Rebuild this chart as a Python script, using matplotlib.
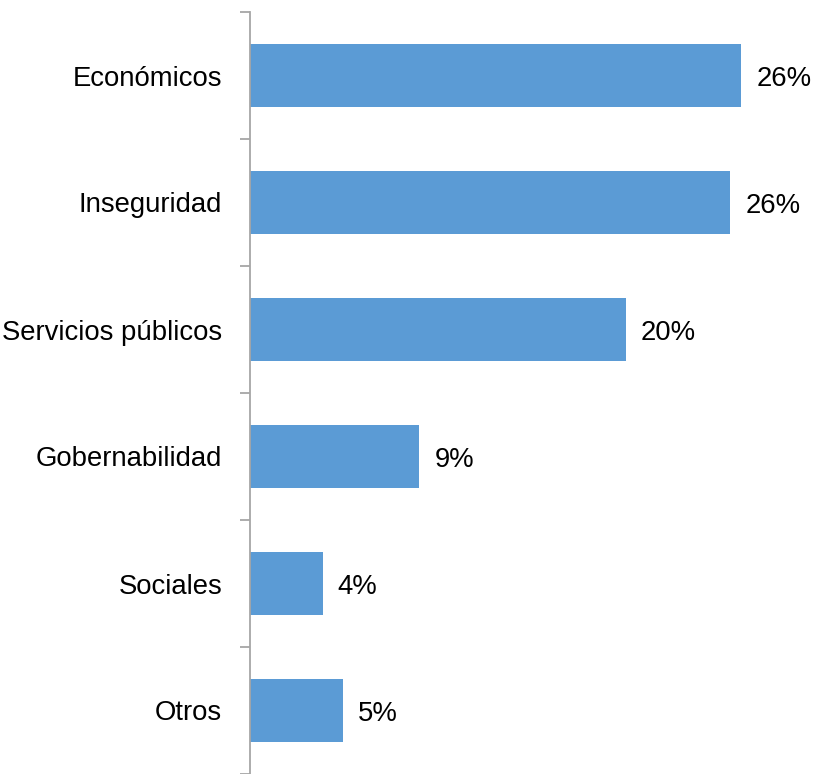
import matplotlib
matplotlib.use("Agg")
import matplotlib.pyplot as plt
import numpy as np

categories = ["Económicos", "Inseguridad", "Servicios públicos", "Gobernabilidad", "Sociales", "Otros"]
values = [26.4, 25.8, 20.2, 9.1, 3.9, 5.0]
labels = ["26%", "26%", "20%", "9%", "4%", "5%"]

plt.rcParams['font.family'] = ['Liberation Sans', 'DejaVu Sans']

fig = plt.figure(figsize=(8.14, 7.74), dpi=100)
ax = fig.add_axes([250/814, 0.0, (814-250)/814, (774-12)/774])

y = np.arange(len(categories))
ax.barh(y, values, height=0.5, color="#5B9BD5")
ax.set_ylim(len(categories) - 0.5, -0.5)
ax.set_xlim(0, 564/18.6)

ax.set_yticks(y)
ax.set_yticklabels(categories, fontsize=19.8)
ax.set_yticks(np.arange(len(categories) + 1) - 0.5, minor=True)
ax.tick_params(axis='y', which='major', length=0, pad=20)
ax.tick_params(axis='y', which='minor', length=7, color="#A6A6A6", width=1.3)
ax.set_xticks([])
for s in ["top", "right", "bottom"]:
    ax.spines[s].set_visible(False)
ax.spines["left"].set_color("#A6A6A6")
ax.spines["left"].set_linewidth(1.3)

for yi, v, lab in zip(y, values, labels):
    ax.annotate(lab, (v, yi), xytext=(11, -2.5), textcoords="offset points",
                va="center", ha="left", fontsize=19.8)

fig.savefig("out.png", dpi=100)
